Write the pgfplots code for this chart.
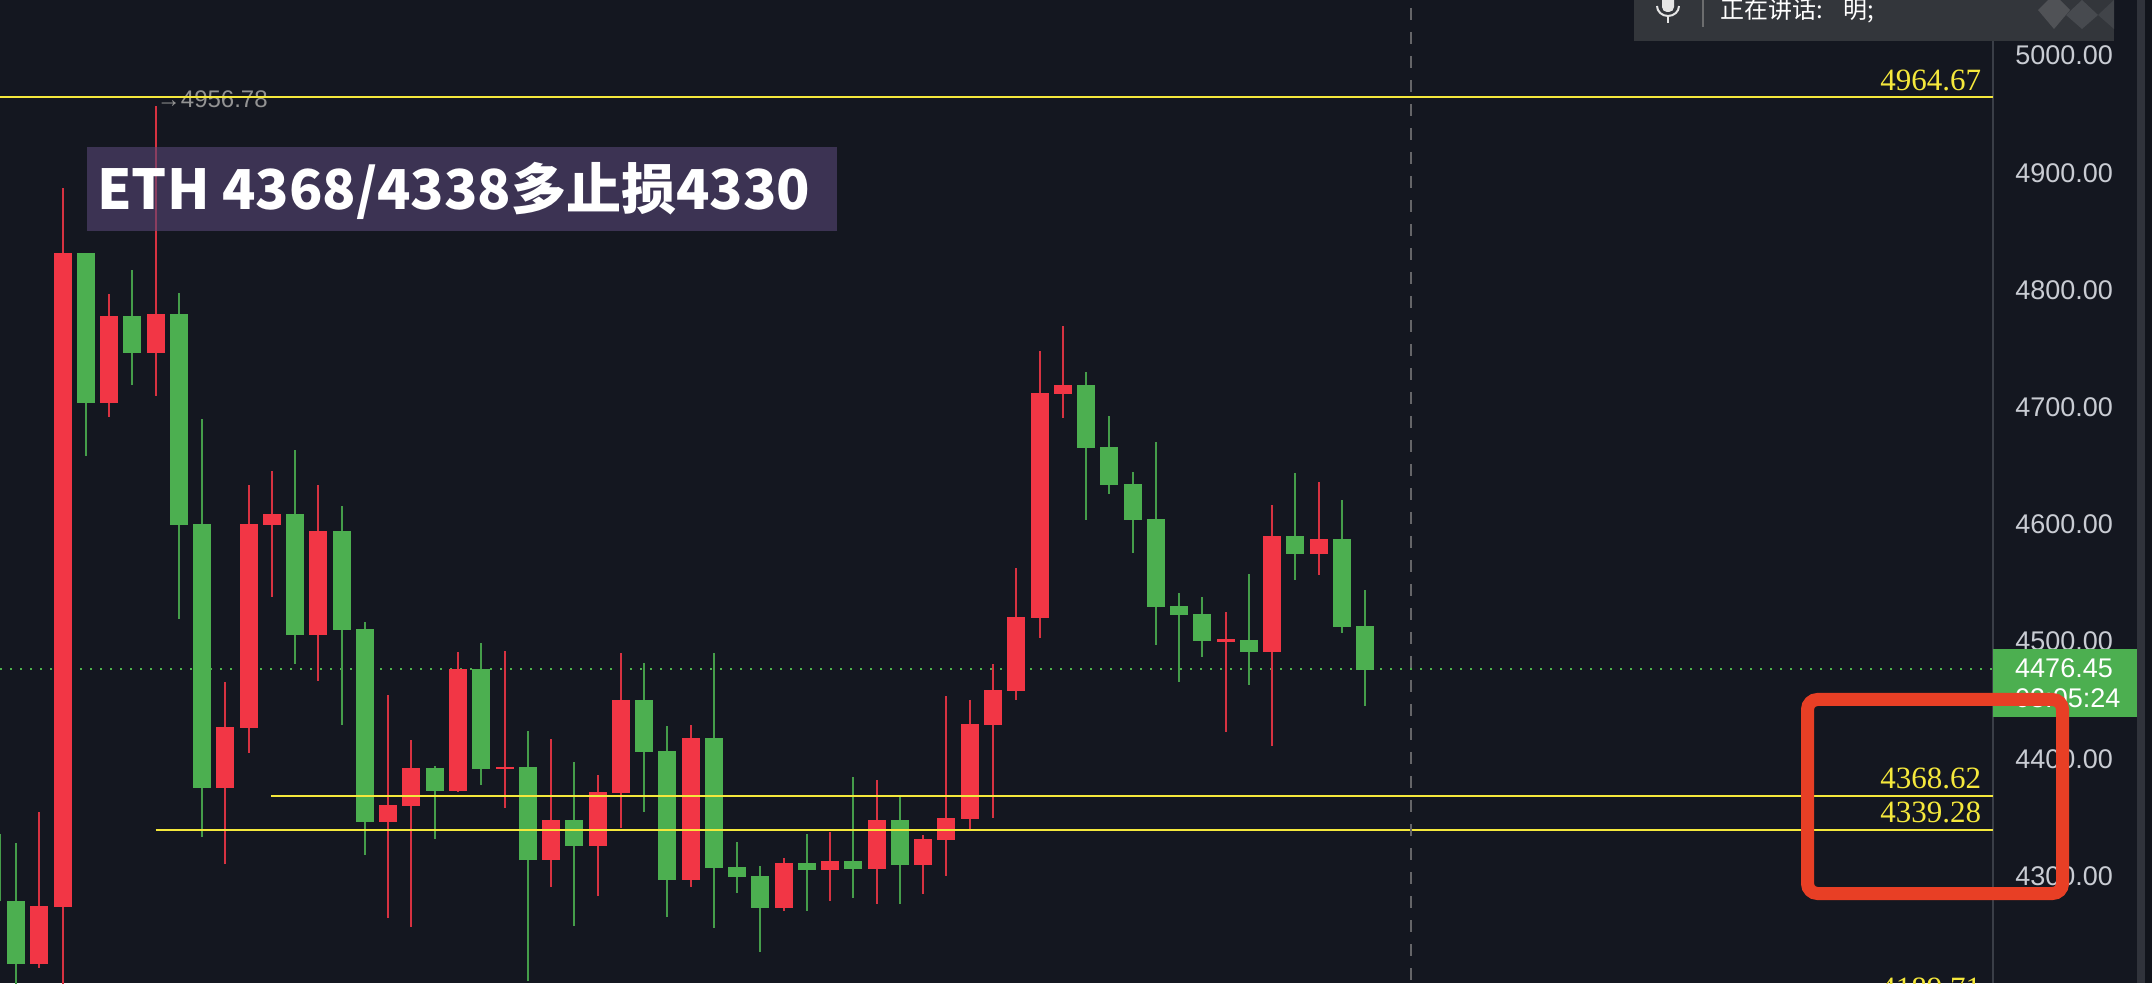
\documentclass[border=0pt]{standalone}
\usepackage{fontspec}
\usepackage{pgfplots}
\usepackage{pgfplotstable}
\pgfplotsset{compat=1.18}
\setmainfont{Liberation Sans}
\newfontfamily\serifnum{Liberation Serif}
\newfontfamily\cjk{Noto Sans CJK SC}
\definecolor{bg}{HTML}{141720}
\definecolor{upred}{HTML}{F23645}
\definecolor{dngreen}{HTML}{4CAF50}
\definecolor{lvl}{HTML}{F5E83C}
\definecolor{ticktxt}{HTML}{C9CCD3}
\definecolor{axisline}{HTML}{3A3E47}
\definecolor{boxc}{HTML}{584775}
\definecolor{panel}{HTML}{33363B}
\definecolor{redbox}{HTML}{E83F25}
\colorlet{redwick}{upred!88!bg}
\colorlet{greenwick}{dngreen!88!bg}
\pgfplotstableread{
i top bot high low
1 4274.4 4224.9 4354.4 4221.8
2 4831.6 4273.5 4886.8 4202.7
4 4777.8 4703.6 4796.6 4691.9
6 4779.5 4746.5 4956.78 4709.8
9 4427.1 4375.3 4465.3 4310.5
10 4600.3 4426.3 4633.6 4405.2
11 4608.9 4599.5 4645.6 4538.3
13 4594.4 4505.6 4633.6 4466.6
16 4360.6 4346.3 4454.4 4264.4
17 4392.1 4360.0 4416.0 4256.7
19 4476.6 4372.8 4491.1 4371.9
21 4393.0 4391.3 4492.0 4358.3
23 4347.8 4313.7 4416.9 4290.6
25 4371.7 4325.9 4386.2 4283.2
26 4450.2 4370.8 4490.3 4341.0
29 4417.7 4296.8 4428.8 4290.9
33 4311.1 4272.7 4315.4 4270.4
35 4312.8 4305.4 4337.5 4278.9
37 4347.8 4306.2 4381.9 4276.4
39 4331.6 4309.6 4335.0 4284.9
40 4349.5 4331.0 4453.6 4300.3
41 4429.7 4348.9 4450.2 4338.7
42 4458.7 4429.1 4480.9 4349.7
43 4521.0 4458.1 4562.8 4450.4
44 4712.1 4520.4 4747.9 4503.3
45 4718.9 4711.3 4769.3 4691.0
52 4502.0 4499.9 4525.3 4423.1
54 4590.1 4491.4 4616.6 4411.2
56 4587.5 4575.0 4636.2 4557.1
}\redtab
\pgfplotstableread{
i top bot high low
-0.667 4335.8 4335.8 4335.8 4278.4
0 4278.4 4224.9 4328.2 4202.7
3 4831.6 4703.6 4831.6 4658.6
5 4777.8 4746.5 4817.1 4718.9
7 4779.5 4599.5 4797.2 4519.5
8 4600.3 4375.3 4689.9 4333.5
12 4608.9 4505.6 4663.5 4481.1
14 4594.4 4510.2 4615.7 4429.1
15 4510.8 4346.3 4516.5 4318.2
18 4392.1 4372.8 4393.6 4331.8
20 4476.6 4391.6 4498.8 4377.9
22 4393.0 4313.7 4423.7 4210.2
24 4347.8 4325.9 4397.3 4257.6
27 4450.2 4406.1 4481.7 4354.9
28 4406.7 4296.8 4428.0 4265.0
30 4417.7 4307.1 4490.3 4255.9
31 4307.7 4299.4 4329.0 4285.8
32 4300.0 4272.7 4308.5 4235.4
34 4311.1 4305.4 4335.8 4270.4
36 4312.8 4306.2 4384.5 4281.5
38 4347.8 4309.6 4367.4 4276.4
46 4718.9 4665.4 4730.0 4604.0
47 4666.0 4633.9 4692.5 4626.2
48 4634.5 4604.0 4644.7 4575.6
49 4604.6 4529.8 4670.3 4497.4
50 4530.4 4523.0 4541.5 4465.8
51 4523.5 4500.8 4538.0 4487.1
53 4501.4 4491.4 4557.7 4463.2
55 4590.1 4575.0 4643.9 4552.8
57 4587.5 4512.7 4620.8 4507.6
58 4513.3 4476.0 4544.0 4445.3
}\greentab
% one wick and one body for every row of a table: #1 table, #2 wick colour, #3 body colour
\newcommand{\candles}[3]{%
  \pgfplotstablegetrowsof{#1}%
  \pgfmathtruncatemacro{\lastrow}{\pgfplotsretval-1}%
  \pgfplotsforeachungrouped \r in {0,...,\lastrow}{%
    \pgfplotstablegetelem{\r}{i}\of{#1}\edef\ci{\pgfplotsretval}%
    \pgfplotstablegetelem{\r}{top}\of{#1}\edef\ct{\pgfplotsretval}%
    \pgfplotstablegetelem{\r}{bot}\of{#1}\edef\cb{\pgfplotsretval}%
    \pgfplotstablegetelem{\r}{high}\of{#1}\edef\ch{\pgfplotsretval}%
    \pgfplotstablegetelem{\r}{low}\of{#1}\edef\cl{\pgfplotsretval}%
    \edef\doit{\noexpand\addplot[forget plot, no markers, solid, line cap=butt, color=#2, line width=2pt] coordinates {(\ci,\cl)(\ci,\ch)};
      \noexpand\addplot[forget plot, no markers, solid, line cap=butt, color=#3, line width=18pt] coordinates {(\ci,\cb)(\ci,\ct)};}%
    \doit
  }%
}
\begin{document}
\begin{tikzpicture}
\useasboundingbox (0,0) rectangle (2152pt,983pt);
\fill[bg] (0,0) rectangle (2152pt,983pt);
\begin{axis}[
  at={(0,0)}, anchor=south west,
  scale only axis, width=1993pt, height=983pt,
  xmin=-0.688, xmax=84.99, ymin=4208.7, ymax=5047.4,
  clip=false,
  axis x line=none, axis y line*=right,
  axis line style={draw=axisline, line width=2pt, -},
  ytick={4300,4400,4500,4600,4700,4800,4900,5000},
  major tick length=0pt,
  scaled y ticks=false,
  yticklabel style={anchor=west, inner xsep=0pt, xshift=22pt, text=ticktxt,
    font=\fontsize{27}{30}\selectfont,
    /pgf/number format/.cd, fixed, fixed zerofill, precision=2, 1000 sep={}, assume math mode=true},
]
% last-price dotted line
\addplot[forget plot, line width=2pt, color=black!0!green!40!gray, dash pattern=on 2pt off 8pt] coordinates {(-0.688,4476.45)(84.99,4476.45)};
% candles
\candles{\redtab}{redwick}{upred}
\candles{\greentab}{greenwick}{dngreen}
% grey high label (under the yellow level)
\node[anchor=west, inner sep=0pt, text=gray!85!white, font=\fontsize{24}{26}\selectfont] at (axis cs:6.05,4963) {→4956.78};
% level lines
\addplot[forget plot, color=lvl, line width=2pt] coordinates {(-0.688,4964.67)(84.99,4964.67)};
\addplot[forget plot, color=lvl, line width=2pt] coordinates {(10.96,4368.62)(84.99,4368.62)};
\addplot[forget plot, color=lvl, line width=2pt] coordinates {(6,4339.28)(84.99,4339.28)};
% level labels
\node[anchor=base east, inner sep=0pt, yshift=6.5pt, text=lvl, font=\serifnum\fontsize{31}{33}\selectfont] at (axis cs:84.48,4964.67) {4964.67};
\node[anchor=base east, inner sep=0pt, yshift=7pt, text=lvl, font=\serifnum\fontsize{31}{33}\selectfont] at (axis cs:84.48,4368.62) {4368.62};
\node[anchor=base east, inner sep=0pt, yshift=7pt, text=lvl, font=\serifnum\fontsize{31}{33}\selectfont] at (axis cs:84.48,4339.28) {4339.28};
\node[anchor=base east, inner sep=0pt, yshift=7pt, text=lvl, font=\serifnum\fontsize{31}{33}\selectfont] at (axis cs:84.48,4189.71) {4189.71};
\end{axis}
\begin{scope}[x=1pt, y=-1pt, yshift=983pt]
  % crosshair
  \draw[color=gray!75!bg, line width=2pt, dash pattern=on 12pt off 12pt, dash phase=16pt] (1411,0) -- (1411,983);
  % annotation box
  \fill[boxc, fill opacity=0.6] (87,147) rectangle (837,231);
  \node[anchor=base west, inner sep=0pt, text=white, font=\cjk\bfseries\fontsize{55}{58}\selectfont] at (97,210) {ETH 4368/4338多止损4330};
  % scrollbar
  \fill[white!12!bg] (2137,0) rectangle (2145,983);
  \fill[bg!85!black] (2145,0) rectangle (2152,983);
  % last price tag
  \fill[dngreen] (1993,649) rectangle (2137,717);
  \node[anchor=base west, inner sep=0pt, text=white, font=\fontsize{27}{30}\selectfont] at (2015,678) {4476.45};
  \node[anchor=base west, inner sep=0pt, text=white, font=\fontsize{27}{30}\selectfont] at (2015,708) {03:05:24};
  % red box
  \draw[redbox, line width=13pt, rounded corners=10pt] (1807.5,699.5) rectangle (2062.5,893.5);
  % top panel
  \fill[panel] (1634,0) rectangle (2114,41);
  \fill[white!14!panel] (2038,10) -- (2054,-6) -- (2070,10) -- (2054,29) -- cycle;
  \fill[white!10!panel] (2066,15) -- (2082,0) -- (2098,15) -- (2082,29) -- cycle;
  \fill[white!7!panel] (2098,15) -- (2114,0) -- (2114,29) -- cycle;
  \fill[white!90!black, rounded corners=5pt] (1662,-8) rectangle (1674,12);
  \draw[white!90!black, line width=2pt] (1657,6) arc[start angle=180, end angle=360, x radius=11, y radius=-10];
  \draw[white!90!black, line width=2.5pt] (1668,16) -- (1668,23);
  \draw[gray!75!panel, line width=1.5pt] (1703,0) -- (1703,27);
  \node[anchor=base west, inner sep=0pt, text=white, font=\cjk\fontsize{24}{26}\selectfont] at (1720,19) {正在讲话:};
  \node[anchor=base west, inner sep=0pt, text=white, font=\cjk\fontsize{24}{26}\selectfont] at (1843,19) {明;};
\end{scope}
\end{tikzpicture}
\end{document}
